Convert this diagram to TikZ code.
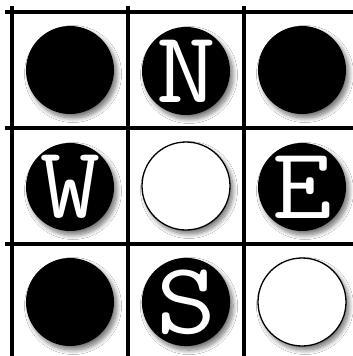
\documentclass[tikz,border=0pt]{standalone}
\usetikzlibrary{shadows.blur}
\newcommand{\widelet}[1]{\scalebox{1.14}[1]{#1}}
\begin{document}
\begin{tikzpicture}[x=1pt,y=-1pt,
  gridline/.style={line width=4pt,black},
  disc/.style={circle,minimum size=88pt,inner sep=0pt,
    blur shadow={shadow xshift=3pt,shadow yshift=-4pt,shadow blur steps=10,shadow blur radius=4.5pt,shadow opacity=55}},
  blackdisc/.style={disc,fill=black,text=white,
    font=\ttfamily\fontsize{102}{102}\selectfont},
  whitedisc/.style={disc,fill=white,draw=black,line width=1.3pt}]
\useasboundingbox (0,0) rectangle (353,356);
\fill[white] (0,0) rectangle (353,356);
% grid
\coordinate (v1t) at (12,6);   \coordinate (v1b) at (12,356);
\coordinate (v2t) at (128,6);  \coordinate (v2b) at (128,356);
\coordinate (v3t) at (244,6);  \coordinate (v3b) at (244,356);
\coordinate (h1l) at (5,12);   \coordinate (h1r) at (353,12);
\coordinate (h2l) at (5,128);  \coordinate (h2r) at (353,128);
\coordinate (h3l) at (5,244);  \coordinate (h3r) at (353,244);
\draw[gridline] (v1t) -- (v1b);
\draw[gridline] (v2t) -- (v2b);
\draw[gridline] (v3t) -- (v3b);
\draw[gridline] (h1l) -- (h1r);
\draw[gridline] (h2l) -- (h2r);
\draw[gridline] (h3l) -- (h3r);
% discs
\node[blackdisc] (nw) at (70,70) {};
\node[blackdisc] (n) at (186,71) {\widelet{N}};
\node[blackdisc] (ne) at (302,70) {};
\node[blackdisc] (w) at (70,187) {\widelet{W}};
\node[whitedisc] (c) at (186,186) {};
\node[blackdisc] (e) at (302,187) {\widelet{E}};
\node[blackdisc] (sw) at (70,302) {};
\node[blackdisc] (s) at (186,302) {\widelet{S}};
\node[whitedisc] (se) at (302,302) {};
\end{tikzpicture}
\end{document}
